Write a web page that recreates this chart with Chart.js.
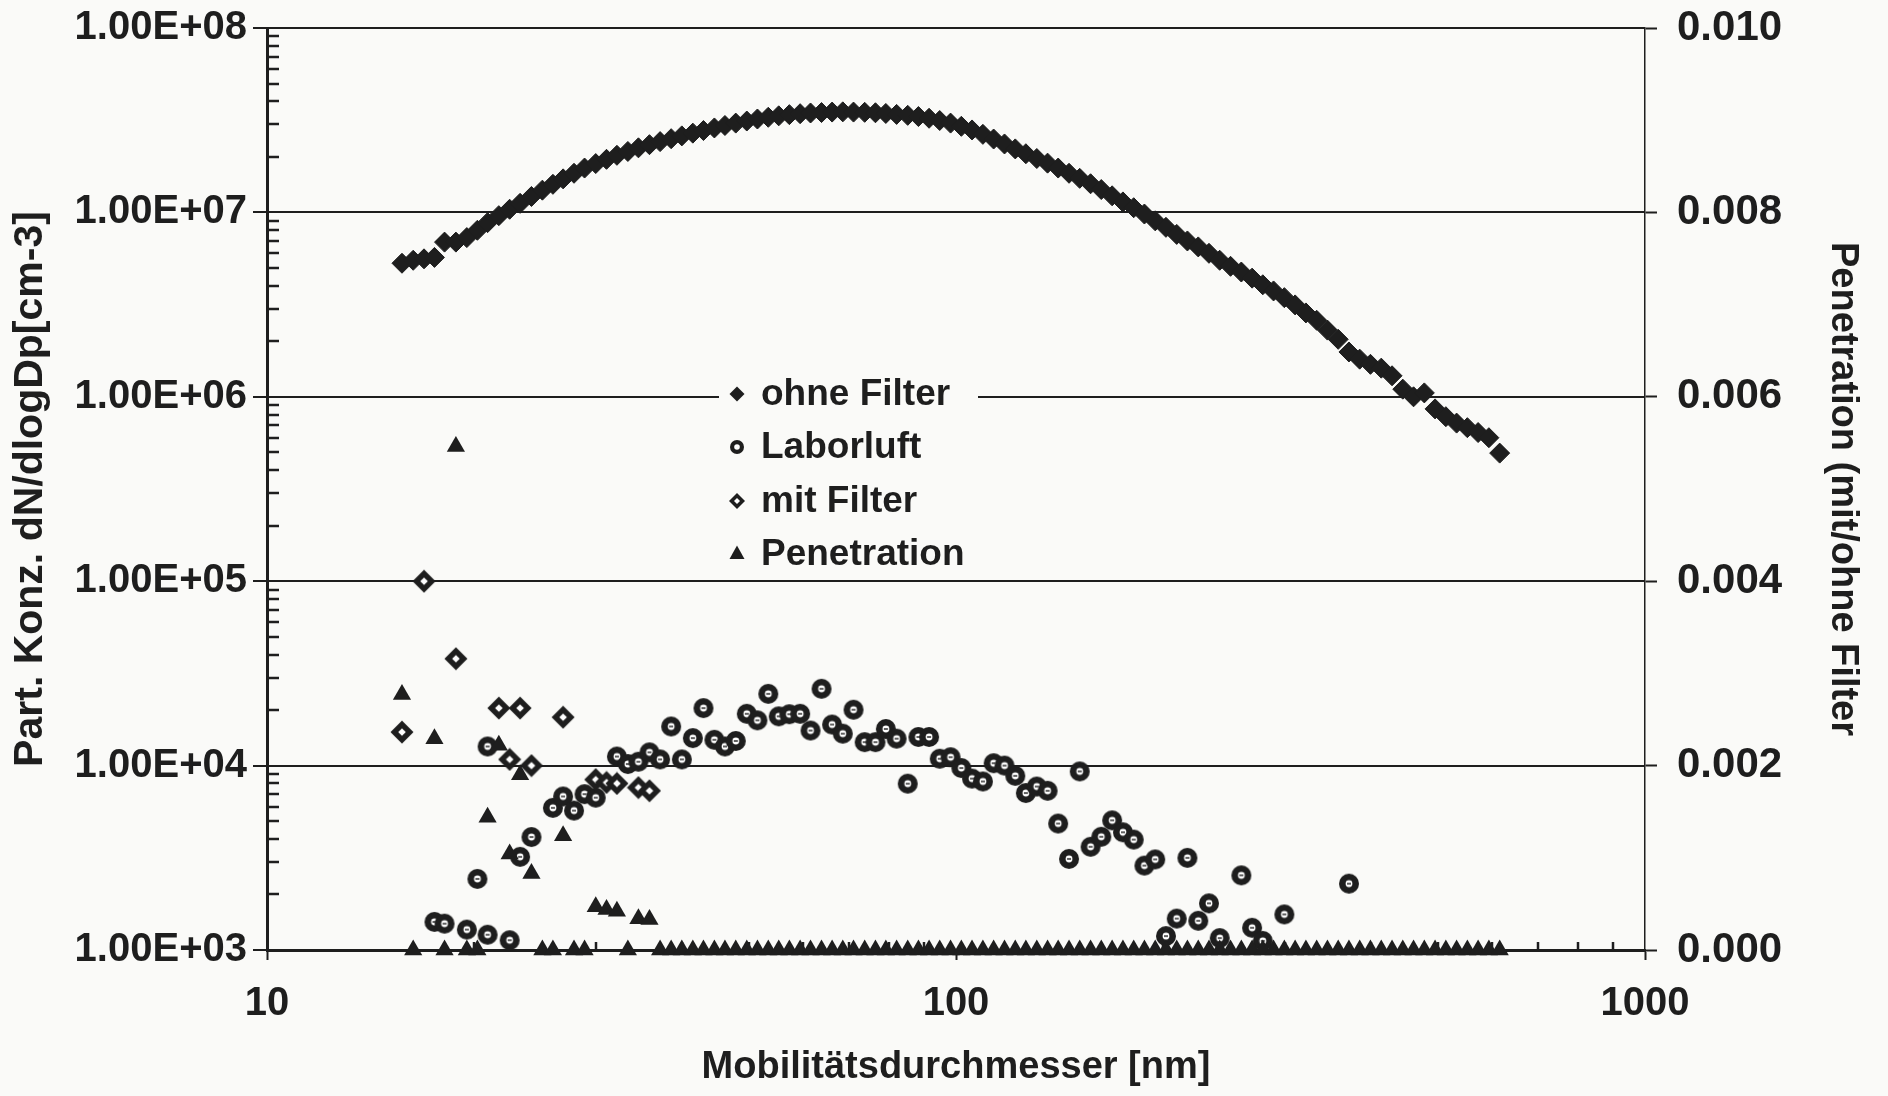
<!DOCTYPE html>
<html>
<head>
<meta charset="utf-8">
<script src="https://cdn.jsdelivr.net/npm/chart.js@4.4.1/dist/chart.umd.min.js"></script>
<style>
  html, body { margin: 0; padding: 0; background: #fafaf8; }
  #wrap { width: 1888px; height: 1096px; }
</style>
</head>
<body>
<div id="wrap"><canvas id="chart" width="1888" height="1096"></canvas></div>
<script>
// Particle size distributions with / without filter.
// x = mobility diameter [nm], SMPS channels (64 per decade).

// ── Data ─────────────────────────────────────────────────────────────
const diameters = [
  15.7, 16.3, 16.9, 17.5, 18.1, 18.8, 19.5, 20.2, 20.9, 21.7,
  22.5, 23.3, 24.2, 25.1, 26.0, 26.9, 27.9, 28.9, 30.0, 31.1,
  32.2, 33.4, 34.6, 35.9, 37.2, 38.6, 40.0, 41.5, 43.0, 44.6,
  46.2, 47.9, 49.7, 51.5, 53.4, 55.3, 57.3, 59.4, 61.5, 63.8,
  66.1, 68.5, 71.0, 73.7, 76.4, 79.1, 82.0, 85.1, 88.2, 91.4,
  94.7, 98.2, 101.8, 105.5, 109.4, 113.4, 117.6, 121.9, 126.3, 131.0,
  135.8, 140.7, 145.9, 151.2, 156.8, 162.5, 168.5, 174.7, 181.1, 187.7,
  194.6, 201.7, 209.1, 216.7, 224.7, 232.9, 241.4, 250.3, 259.5, 269.0,
  278.8, 289.0, 299.6, 310.6, 322.0, 333.8, 346.0, 358.7, 371.8, 385.4,
  399.5, 414.2, 429.4, 445.1, 461.4, 478.3, 495.8, 514.0, 532.8, 552.3,
  572.5, 593.5, 615.3
];

// dN/dlogDp [cm-3] without filter, one value per channel
const ohneFilter = [
  5.3e6, 5.5e6, 5.6e6, 5.7e6, 6.9e6, 6.9e6, 7.3e6, 8.0e6, 8.8e6, 9.6e6,
  1.04e7, 1.12e7, 1.22e7, 1.32e7, 1.42e7, 1.52e7, 1.63e7, 1.74e7, 1.84e7, 1.94e7,
  2.04e7, 2.14e7, 2.24e7, 2.33e7, 2.42e7, 2.51e7, 2.60e7, 2.69e7, 2.78e7, 2.87e7,
  2.96e7, 3.05e7, 3.13e7, 3.21e7, 3.28e7, 3.34e7, 3.39e7, 3.43e7, 3.46e7, 3.48e7,
  3.50e7, 3.51e7, 3.50e7, 3.49e7, 3.47e7, 3.44e7, 3.40e7, 3.36e7, 3.31e7, 3.24e7,
  3.15e7, 3.05e7, 2.93e7, 2.80e7, 2.65e7, 2.50e7, 2.35e7, 2.21e7, 2.08e7, 1.96e7,
  1.85e7, 1.74e7, 1.63e7, 1.53e7, 1.43e7, 1.33e7, 1.23e7, 1.14e7, 1.06e7, 9.8e6,
  9.0e6, 8.3e6, 7.6e6, 7.0e6, 6.5e6, 6.0e6, 5.5e6, 5.1e6, 4.75e6, 4.4e6,
  4.05e6, 3.75e6, 3.45e6, 3.15e6, 2.85e6, 2.6e6, 2.3e6, 2.05e6, 1.75e6, 1.6e6,
  1.5e6, 1.43e6, 1.3e6, 1.1e6, 1.0e6, 1.05e6, 8.6e5, 7.8e5, 7.2e5, 6.8e5,
  6.4e5, 6.0e5, 4.95e5
];

// Penetration (mit/ohne Filter), right axis; null = off the chart
const penetration = [
  0.00277, 0, null, 0.00229, 0, 0.00546, 0, 0, 0.00144, 0.00222,
  0.00104, 0.0019, 0.00083, 0, 0, 0.00124, 0, 0, 0.00047, 0.00044,
  0.00042, 0, 0.00034, 0.00033, 0, 0, 0, 0, 0, 0,
  0, 0, 0, 0, 0, 0, 0, 0, 0, 0,
  0, 0, 0, 0, 0, 0, 0, 0, 0, 0,
  0, 0, 0, 0, 0, 0, 0, 0, 0, 0,
  0, 0, 0, 0, 0, 0, 0, 0, 0, 0,
  0, 0, 0, 0, 0, 0, 0, 0, 0, 0,
  0, 0, 0, 0, 0, 0, 0, 0, 0, 0,
  0, 0, 0, 0, 0, 0, 0, 0, 0, 0,
  0, 0, 0
];

// Laborluft: only the channels that show a marker
const laborluftDp = [
  17.5, 18.1, 19.5, 20.2, 20.9, 20.9, 22.5, 23.3, 24.2, 26.0,
  26.9, 27.9, 28.9, 30.0, 32.2, 33.4, 34.6, 35.9, 37.2, 38.6,
  40.0, 41.5, 43.0, 44.6, 46.2, 47.9, 49.7, 51.5, 53.4, 55.3,
  57.3, 59.4, 61.5, 63.8, 66.1, 68.5, 71.0, 73.7, 76.4, 79.1,
  82.0, 85.1, 88.2, 91.4, 94.7, 98.2, 101.8, 105.5, 109.4, 113.4,
  117.6, 121.9, 126.3, 131.0, 135.8, 140.7, 145.9, 151.2, 156.8, 162.5,
  168.5, 174.7, 181.1, 187.7, 194.6, 201.7, 209.1, 216.7, 224.7, 232.9,
  241.4, 259.5, 269.0, 278.8, 299.6, 371.8
];
const laborluft = [
  1420, 1390, 1290, 2430, 1210, 12700, 1130, 3200, 4100, 5900,
  6800, 5700, 7000, 6700, 11200, 10200, 10500, 11800, 10800, 16300,
  10800, 14100, 20500, 13800, 12700, 13600, 19100, 17600, 24500, 18500,
  19000, 19100, 15500, 26100, 16700, 14900, 20100, 13400, 13400, 15800,
  14000, 7980, 14300, 14300, 10900, 11100, 9700, 8500, 8200, 10300,
  10000, 8800, 7100, 7700, 7300, 4850, 3120, 9300, 3630, 4110,
  5050, 4350, 3970, 2870, 3100, 1190, 1480, 3160, 1440, 1790,
  1160, 2540, 1320, 1120, 1560, 2290
];

// mit Filter: only the channels that show a marker
const mitFilterDp = [15.7, 16.9, 18.8, 21.7, 22.5, 23.3, 24.2, 26.9, 30.0, 31.1, 32.2, 34.6, 35.9];
const mitFilter   = [15200, 100000, 38000, 20500, 10800, 20500, 10000, 18300, 8400, 8100, 8000, 7600, 7300];

// Tick labels
const xTicks     = [10, 100, 1000];
const leftTicks  = [1e3, 1e4, 1e5, 1e6, 1e7, 1e8];
const rightTicks = [0, 0.002, 0.004, 0.006, 0.008, 0.010];

const seriesNames = ['ohne Filter', 'Laborluft', 'mit Filter', 'Penetration'];

// ── Styling helpers ──────────────────────────────────────────────────
const INK   = '#1e1e1e';
const PAPER = '#fafaf8';
const FONT  = "'Liberation Sans', Arial, sans-serif";

function diamondPath(g, x, y, r) {
  g.beginPath();
  g.moveTo(x, y - r); g.lineTo(x + r, y); g.lineTo(x, y + r); g.lineTo(x - r, y);
  g.closePath();
}

function makeMarker(size, draw) {
  const c = document.createElement('canvas');
  c.width = size; c.height = size;
  draw(c.getContext('2d'), size / 2);
  return c;
}

// dark disc with a small white eye and a dash (Laborluft)
const laborMarker = makeMarker(22, (g, m) => {
  g.fillStyle = INK; g.beginPath(); g.arc(m, m, 10, 0, Math.PI * 2); g.fill();
  g.fillStyle = '#fff'; g.beginPath(); g.arc(m, m, 3.4, 0, Math.PI * 2); g.fill();
  g.fillStyle = INK; g.fillRect(m - 2, m - 0.7, 4, 1.4);
});

// dark diamond with a white eye (mit Filter)
const mitMarker = makeMarker(24, (g, m) => {
  diamondPath(g, m, m, 11.5); g.fillStyle = INK; g.fill();
  diamondPath(g, m, m, 3.8); g.fillStyle = '#fff'; g.fill();
});

function toPoints(xs, ys) {
  const pts = [];
  xs.forEach((x, i) => { if (ys[i] !== null) pts.push({ x, y: ys[i] }); });
  return pts;
}

function sciLabel(v) {
  const [m, e] = Number(v).toExponential(2).split('e');
  const n = parseInt(e, 10);
  return m + 'E' + (n < 0 ? '-' : '+') + String(Math.abs(n)).padStart(2, '0');
}

// keep the plot box fixed: no extra room for half-labels at the ends
function noEndPadding(s) {
  s.paddingTop = 0; s.paddingBottom = 0;
  s.paddingLeft = 0; s.paddingRight = 0;
}

// ── Plugins ──────────────────────────────────────────────────────────
const paper = {
  id: 'paper',
  beforeDraw(chart) {
    const { ctx, width, height } = chart;
    ctx.save();
    ctx.fillStyle = PAPER;
    ctx.fillRect(0, 0, width, height);
    ctx.restore();
  },
};

// small inward minor ticks on the log axes
const minorTicks = {
  id: 'minorTicks',
  beforeDatasetsDraw(chart) {
    const { ctx, chartArea: a, scales } = chart;
    ctx.save();
    ctx.strokeStyle = INK;
    ctx.lineWidth = 2.5;
    ctx.beginPath();
    for (let d = 1e3; d < 1e8; d *= 10) {
      for (let m = 2; m <= 9; m++) {
        const y = Math.round(scales.y.getPixelForValue(d * m));
        ctx.moveTo(a.left, y); ctx.lineTo(a.left + 12, y);
      }
    }
    for (let d = 10; d < 1000; d *= 10) {
      for (let m = 2; m <= 9; m++) {
        const x = Math.round(scales.x.getPixelForValue(d * m));
        ctx.moveTo(x, a.bottom); ctx.lineTo(x, a.bottom - 8);
      }
    }
    ctx.stroke();
    ctx.restore();
  },
};

// legend sitting inside the plot, on a paper-coloured box
const inlineLegend = {
  id: 'inlineLegend',
  afterDraw(chart) {
    const { ctx } = chart;
    const rows = [394, 447, 501, 554];
    const mx = 737, tx = 761;
    ctx.save();
    ctx.fillStyle = PAPER;
    ctx.fillRect(719, 372, 259, 206);

    ctx.fillStyle = INK;
    // ohne Filter – filled diamond
    diamondPath(ctx, mx, rows[0], 7.5); ctx.fill();
    // Laborluft – ring
    ctx.beginPath(); ctx.arc(mx, rows[1], 7, 0, Math.PI * 2); ctx.fill();
    ctx.fillStyle = '#fff';
    ctx.beginPath(); ctx.arc(mx, rows[1], 2.8, 0, Math.PI * 2); ctx.fill();
    // mit Filter – open diamond
    ctx.fillStyle = INK;
    diamondPath(ctx, mx, rows[2], 8); ctx.fill();
    ctx.fillStyle = '#fff';
    diamondPath(ctx, mx, rows[2], 3); ctx.fill();
    // Penetration – triangle
    ctx.fillStyle = INK;
    ctx.beginPath();
    ctx.moveTo(mx, rows[3] - 8.5); ctx.lineTo(mx + 7.5, rows[3] + 5); ctx.lineTo(mx - 7.5, rows[3] + 5);
    ctx.closePath(); ctx.fill();

    ctx.font = `bold 37px ${FONT}`;
    ctx.textBaseline = 'middle';
    ctx.textAlign = 'left';
    seriesNames.forEach((name, i) => ctx.fillText(name, tx, rows[i] + 1));
    ctx.restore();
  },
};

// ── Chart ────────────────────────────────────────────────────────────
const tickFont  = { family: FONT, size: 40, weight: 'bold' };
const titleFont = { family: FONT, size: 38, weight: 'bold' };

new Chart(document.getElementById('chart'), {
  type: 'scatter',
  data: {
    datasets: [
      {
        label: seriesNames[0],
        data: toPoints(diameters, ohneFilter),
        yAxisID: 'y',
        pointStyle: 'rectRot',
        pointRadius: 10,
        backgroundColor: INK,
        borderColor: INK,
        borderWidth: 1,
        clip: false,
        order: 4,
      },
      {
        label: seriesNames[1],
        data: toPoints(laborluftDp, laborluft),
        yAxisID: 'y',
        pointStyle: laborMarker,
        pointRadius: 10,
        clip: false,
        order: 3,
      },
      {
        label: seriesNames[2],
        data: toPoints(mitFilterDp, mitFilter),
        yAxisID: 'y',
        pointStyle: mitMarker,
        pointRadius: 11,
        clip: false,
        order: 2,
      },
      {
        label: seriesNames[3],
        data: toPoints(diameters, penetration),
        yAxisID: 'y1',
        pointStyle: 'triangle',
        pointRadius: 10.5,
        backgroundColor: INK,
        borderColor: INK,
        borderWidth: 0,
        clip: false,
        order: 1,
      },
    ],
  },
  options: {
    responsive: false,
    devicePixelRatio: 1,
    animation: false,
    layout: { padding: { top: 28, right: 0, bottom: 0, left: 0 } },
    plugins: {
      legend: { display: false },
      tooltip: { enabled: false },
    },
    scales: {
      x: {
        type: 'logarithmic',
        position: 'bottom',
        min: 10,
        max: 1000,
        afterFit: s => { s.height = 146; noEndPadding(s); },
        afterBuildTicks: s => { s.ticks = xTicks.map(v => ({ value: v })); },
        border: { display: true, color: INK, width: 3 },
        grid: { drawOnChartArea: false, drawTicks: true, tickLength: 10, tickWidth: 2, tickColor: INK },
        ticks: {
          color: INK, font: tickFont, padding: 20, maxRotation: 0, autoSkip: false,
          callback: v => String(v),
        },
        title: {
          display: true, text: 'Mobilitätsdurchmesser [nm]', color: INK, font: titleFont,
          padding: { top: 0, bottom: 6 },
        },
      },
      y: {
        type: 'logarithmic',
        position: 'left',
        min: 1e3,
        max: 1e8,
        afterFit: s => { s.width = 267; noEndPadding(s); },
        afterBuildTicks: s => { s.ticks = leftTicks.map(v => ({ value: v })); },
        border: { display: true, color: INK, width: 3 },
        grid: { color: INK, lineWidth: 2, drawTicks: true, tickLength: 14, tickWidth: 2, tickColor: INK },
        ticks: { color: INK, font: tickFont, padding: 6, autoSkip: false, callback: v => sciLabel(v) },
        title: {
          display: true, text: 'Part. Konz. dN/dlogDp[cm-3]', color: INK,
          font: { family: FONT, size: 41, weight: 'bold' },
          padding: { top: 6, bottom: 0 },
        },
      },
      y1: {
        type: 'linear',
        position: 'right',
        min: 0,
        max: 0.010,
        afterFit: s => { s.width = 243; noEndPadding(s); },
        afterBuildTicks: s => { s.ticks = rightTicks.map(v => ({ value: v })); },
        border: { display: true, color: INK, width: 1.5 },
        grid: { drawOnChartArea: false, drawTicks: true, tickLength: 12, tickWidth: 2, tickColor: INK },
        ticks: {
          color: INK, font: { family: FONT, size: 42, weight: 'bold' }, padding: 20, autoSkip: false,
          callback: v => Number(v).toFixed(3),
        },
        title: {
          display: true, text: 'Penetration (mit/ohne Filter', color: INK, font: titleFont,
          padding: { top: 23, bottom: 0 },
        },
      },
    },
  },
  plugins: [paper, minorTicks, inlineLegend],
});
</script>
</body>
</html>
